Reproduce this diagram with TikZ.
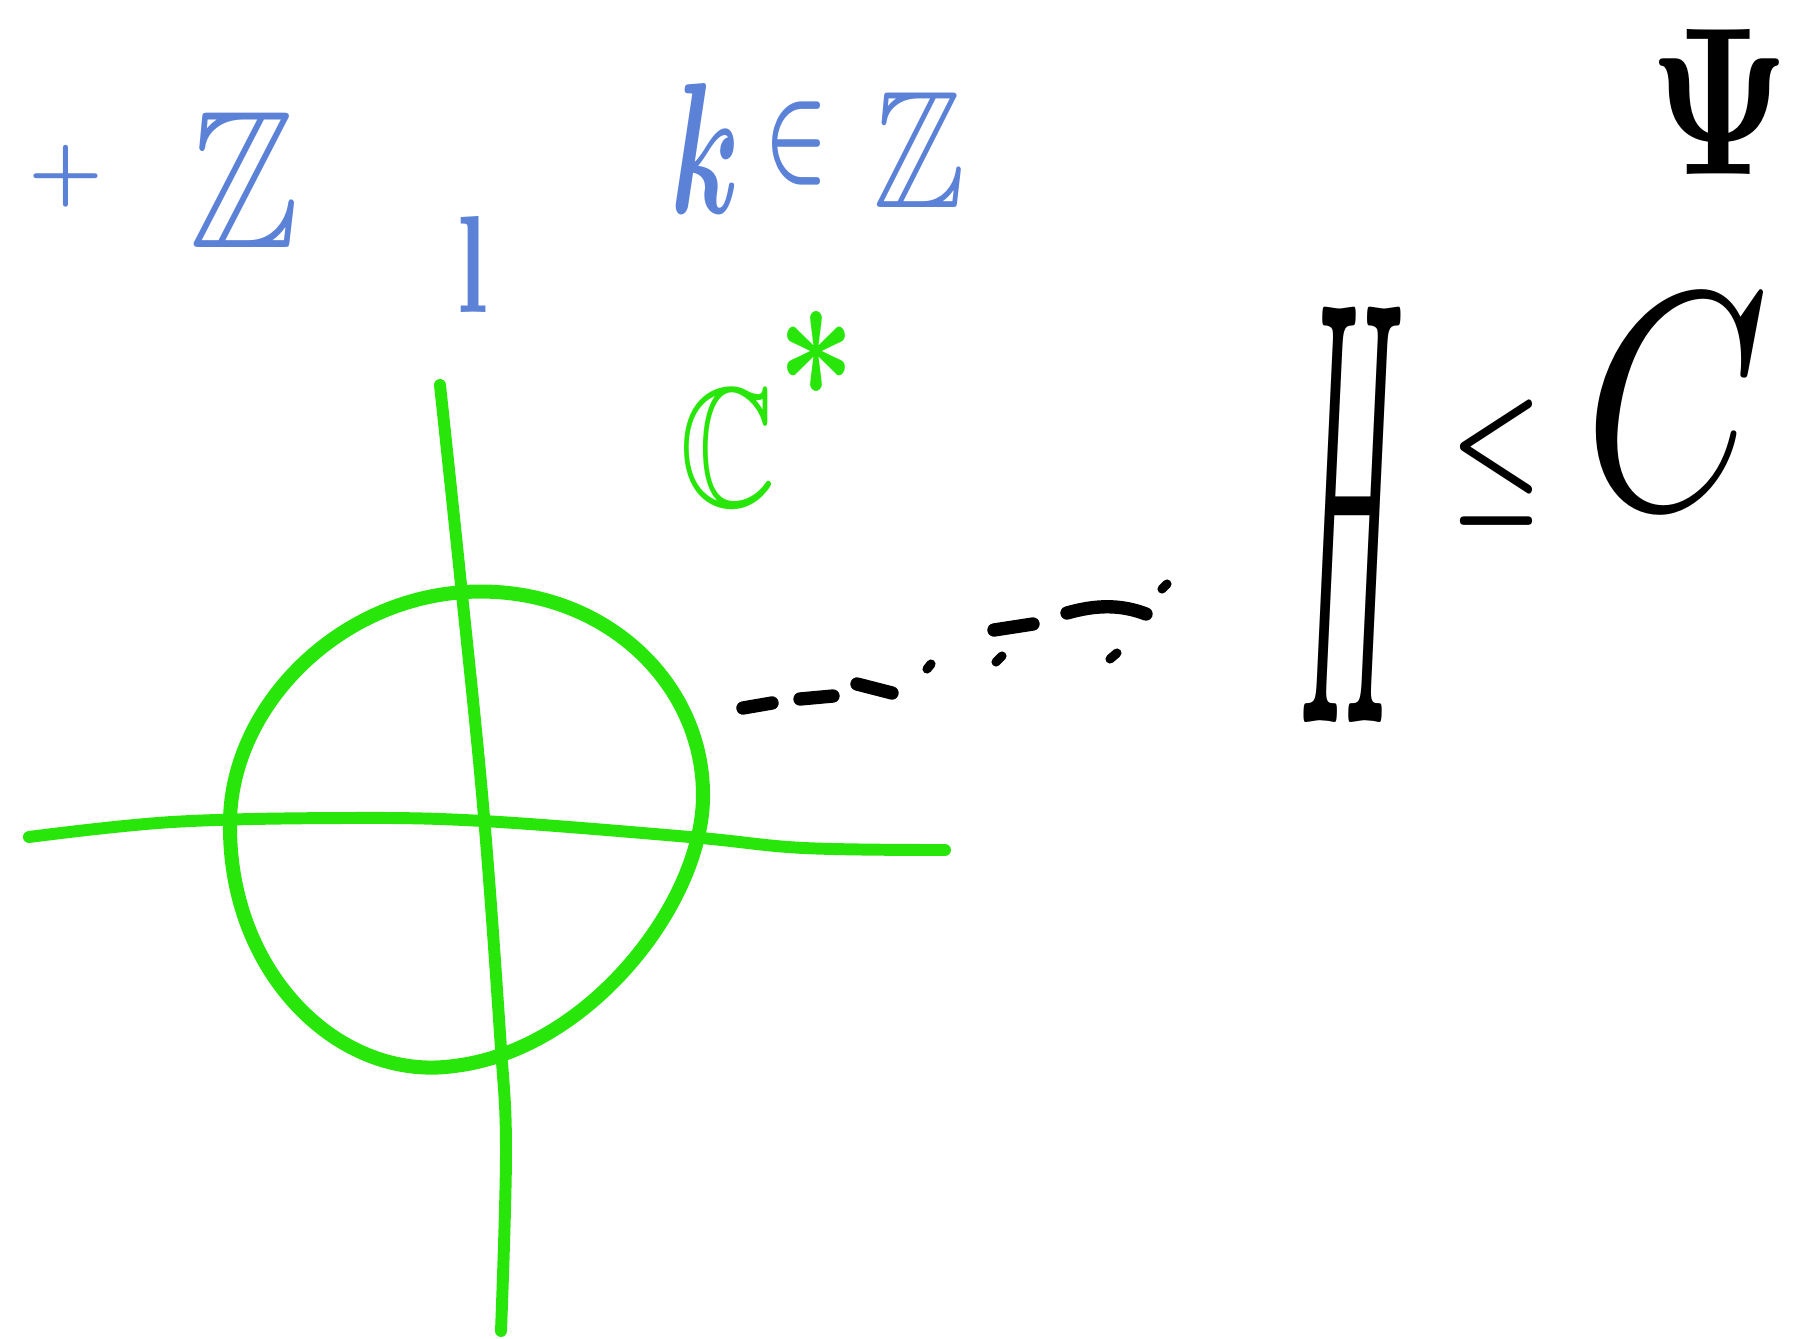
\documentclass[tikz,border=0pt]{standalone}
\usepackage{amssymb,bm,graphicx}
\definecolor{hblue}{RGB}{91,130,214}
\definecolor{hgreen}{RGB}{40,230,10}
\begin{document}
\begin{tikzpicture}[x=0.01cm,y=-0.01cm,
  glyph/.style={inner sep=0pt,outer sep=0pt},
  greenstroke/.style={draw=hgreen,line width=3.4pt,line cap=round,line join=round},
  dashstroke/.style={draw=black,line width=3.8pt,line cap=round},
  dotstroke/.style={draw=black,line width=2.6pt,line cap=round}]
\useasboundingbox (0,0) rectangle (1802,1339);
% blue text
\node[glyph,text=hblue] (plus) at (66,176) {\resizebox*{0.75cm}{0.62cm}{$\bm{+}$}};
\node[glyph,text=hblue] (zA) at (245,180) {\resizebox*{1.10cm}{1.35cm}{$\mathbb{Z}$}};
\node[glyph,text=hblue] (ell) at (473,264) {\resizebox*{0.32cm}{0.96cm}{\textbf{l}}};
\node[glyph,text=hblue] (kk) at (706,148) {\resizebox*{0.70cm}{1.30cm}{$\bm{k}$}};
\node[glyph,text=hblue] (inn) at (797,144) {\resizebox*{0.64cm}{0.83cm}{$\bm{\in}$}};
\node[glyph,text=hblue] (zB) at (920,150) {\resizebox*{0.92cm}{1.15cm}{$\mathbb{Z}$}};
% green C*
\node[glyph,text=hgreen] (cc) at (728,448) {\resizebox*{0.97cm}{1.17cm}{$\mathbb{C}$}};
\node[glyph,text=hgreen] (star) at (817,354) {\resizebox*{0.78cm}{0.85cm}{$\bm{\ast}$}};
% black symbols
\node[glyph] (psi) at (1720,102) {\resizebox*{1.40cm}{1.45cm}{$\bm{\Psi}$}};
\node[glyph] (hh) at (1352,515) {\resizebox*{1.05cm}{4.15cm}{$H$}};
\node[glyph] (leq) at (1497,462) {\resizebox*{0.92cm}{1.25cm}{$\bm{\leq}$}};
\node[glyph] (ccc) at (1677,402) {\resizebox*{1.85cm}{2.12cm}{$C$}};
% green axes and circle
\draw[greenstroke] plot[smooth,tension=0.6] coordinates {(29,837) (172,822) (345,818) (483,821) (690,837) (804,848) (945,850)};
\draw[greenstroke] plot[smooth,tension=0.6] coordinates {(440,385) (460,575) (483,805) (500,1034) (506,1149) (501,1331)};
\draw[greenstroke,line width=4pt] (465,592) .. controls (600,584) and (702,680) .. (703,793)
  .. controls (705,900) and (590,1050) .. (454,1066)
  .. controls (340,1082) and (230,975) .. (230,827)
  .. controls (228,710) and (335,600) .. cycle;
% dashed connector
\draw[dashstroke] (743,708) -- (772,703);
\draw[dashstroke] (800,699) -- (833,696);
\draw[dashstroke] (857,684) -- (892,693);
\draw[dotstroke] (927,669) -- (931,664);
\draw[dashstroke] (994,630) -- (1033,624);
\draw[dotstroke] (996,662) -- (1002,656);
\draw[dashstroke] (1067,613) .. controls (1095,605) and (1120,604) .. (1146,614);
\draw[dotstroke] (1110,659) -- (1117,653);
\draw[dotstroke] (1162,589) -- (1167,584);
\end{tikzpicture}
\end{document}
